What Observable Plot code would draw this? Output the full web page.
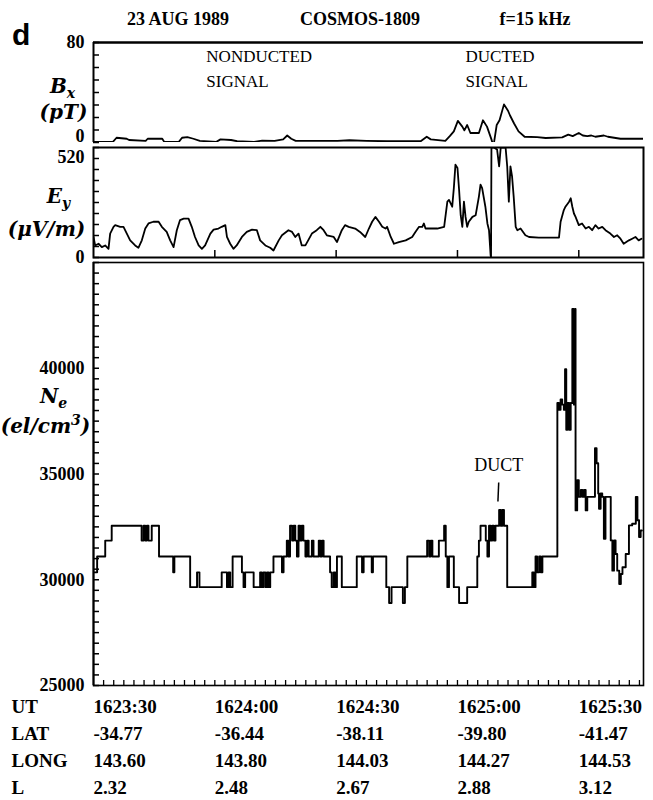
<!DOCTYPE html>
<html><head><meta charset="utf-8">
<script src="https://cdn.jsdelivr.net/npm/d3@7"></script>
<script src="https://cdn.jsdelivr.net/npm/@observablehq/plot@0.6"></script>
<style>
body{margin:0;background:#fff;}
#wrap{position:relative;width:653px;height:800px;overflow:hidden;background:#fff;}
.ttl{position:absolute;top:9px;font:bold 18px "Liberation Serif",serif;white-space:nowrap;transform:translateX(-50%);color:#000;}
#panel{position:absolute;left:12px;top:20px;font:bold 30px "Liberation Sans",Arial,sans-serif;color:#000;line-height:1;}
</style></head>
<body><div id="wrap"><div id="panel">d</div></div>
<script>
// ---------------- data ----------------
const titleTexts = ["23 AUG 1989", "COSMOS-1809", "f=15 kHz"];
const titleCenters = [178, 360, 535];

// time in seconds after 16:23:30 UT
const utTickSeconds = [0, 30, 60, 90, 120];
const rowNames = ["UT", "LAT", "LONG", "L"];
const utLabels = ["1623:30", "1624:00", "1624:30", "1625:00", "1625:30"];
const latLabels = ["-34.77", "-36.44", "-38.11", "-39.80", "-41.47"];
const longLabels = ["143.60", "143.80", "144.03", "144.27", "144.53"];
const lLabels = ["2.32", "2.48", "2.67", "2.88", "3.12"];

// Bx (pT)
const bxTime = [0,1.5,4.8,5.7,8.2,8.8,12.9,13.4,17.0,17.5,21.1,21.9,23.2,24.7,26.3,30.4,31.4,34.0,35.5,39.7,41.7,44.8,46.9,47.9,48.9,50.0,56.1,60.3,63.3,67.5,72.6,80.9,82.4,83.4,87.0,88.1,89.1,90.1,91.2,91.7,92.4,93.2,95.3,96.3,97.3,98.4,98.9,99.7,100.4,101.5,102.5,103.0,104.0,105.1,106.6,109.7,111.8,115.9,117.4,118.5,120.0,121.0,122.1,123.1,124.1,126.2,127.2,130.3,136];
const bxValue = [0.5,0.5,0.5,3.8,3.0,2.0,1.3,3.0,3.0,0.5,0.5,3.8,4.3,3.0,1.3,0.5,2.5,2.0,1.0,0.5,1.5,1.3,2.5,5.6,3.0,1.3,1.3,1.3,1.8,1.3,1.0,1.0,4.6,2.5,1.3,5.1,8.9,17.3,12.7,9.7,14.0,7.6,7.6,17.8,12.7,2.5,-3,14.0,17.8,30.5,25.4,21.6,15.2,8.9,4.6,4.3,3.6,4.1,6.3,5.1,7.6,5.6,5.1,5.6,4.6,5.6,4.6,3.0,3.0];

// Ey (uV/m)
const eyTime = [0,0.41,1.24,2.06,2.89,3.71,4.12,4.95,5.36,6.6,7.42,8.24,9.07,10.3,11.1,11.95,12.8,13.6,14.8,16.1,16.9,18.1,18.96,19.8,20.6,21.4,22.3,23.5,24.3,25.1,26.0,26.8,27.6,28.9,29.7,30.9,31.7,32.6,33.0,33.8,34.6,35.4,36.7,37.9,39.2,40.4,41.2,42.5,43.7,44.5,45.8,46.6,48.2,49.1,49.9,50.7,51.5,52.4,54.0,55.2,56.1,56.9,57.7,59.4,60.2,61.4,62.2,63.1,64.7,65.9,67.2,68.1,68.9,69.7,70.6,71.4,72.2,72.6,73.5,74.3,75.5,77.2,78.8,79.6,80.5,81.3,81.7,82.1,83.8,85.0,86.7,87.5,87.9,88.7,89.1,89.5,90.0,90.4,90.8,91.2,91.6,92.0,92.4,92.8,93.7,94.5,95.3,95.7,96.1,96.9,97.4,97.8,98.2,98.3,98.4,99.0,99.8,100.3,100.7,101.9,102.3,102.7,103.1,103.5,103.9,104.4,104.8,105.6,106.8,107.7,110.1,113.4,115.1,115.5,116.3,116.7,117.6,118.0,118.4,118.8,119.2,120.0,120.8,121.7,122.5,123.3,124.1,124.9,125.8,126.6,127.8,128.7,129.5,130.3,131.1,132.4,133.2,134.0,134.8,135.5];
const eyValue = [97,57,65,49,57,41,113,145,153,145,145,113,81,57,46,81,137,161,169,169,145,121,81,49,129,177,184,184,145,97,57,41,57,113,132,137,145,153,97,65,41,57,97,121,132,129,81,57,46,33,81,105,129,121,97,113,57,57,113,129,145,129,105,97,73,129,153,145,137,121,97,137,169,192,169,145,137,145,97,65,73,81,97,121,145,145,161,137,137,137,145,264,272,240,328,439,423,320,200,145,264,192,145,169,192,200,288,344,328,240,161,129,10,0,520,520,510,431,520,520,431,264,431,383,288,145,129,137,105,97,94,94,94,169,224,240,264,280,240,208,192,153,161,137,145,129,153,137,145,129,113,97,105,89,65,81,89,97,81,89];

// Ne (el/cm^3), step-after samples
const neTime = [0,0.9,2.9,4.5,11.9,12.4,12.8,13.2,13.6,14.4,16.2,19.7,20.0,23.9,25.6,26.2,31.7,33.0,33.4,33.8,34.4,36.7,37.1,37.5,39.6,41.2,41.6,42.0,42.5,42.9,43.3,43.7,44.5,46.6,47.0,47.8,48.2,48.6,49.1,49.5,49.9,50.3,50.7,51.1,51.5,51.9,52.4,52.8,53.2,54.0,54.4,55.7,56.1,56.5,56.9,58.5,58.9,59.4,59.8,60.2,61.4,65.1,66.4,66.8,68.8,69.1,72.4,73.1,73.7,76.5,77.0,77.6,82.5,83.0,83.4,83.8,85.4,86.7,87.1,87.5,87.9,89.1,90.4,92.4,94.9,95.3,95.7,97.0,97.4,97.8,98.2,98.6,99.0,99.4,100.3,100.7,101.1,101.5,102.3,108.5,108.9,109.3,109.7,110.2,110.6,111.0,114.7,115.1,115.5,115.9,116.3,116.6,116.9,117.2,117.6,118.0,118.4,118.8,119.1,119.2,119.6,120.0,120.5,120.9,121.3,121.7,122.1,124.0,124.4,124.8,125.0,125.4,125.8,126.2,126.6,127.9,128.3,128.7,129.1,129.5,130.0,130.4,130.8,131.6,132.4,133.2,134.1,134.5,134.9,135.3,135.6];
const neValue = [30350,31100,31850,32550,31850,32550,31850,32550,31850,32550,31100,30350,31100,29650,30350,29650,30350,29650,30350,29650,31100,30350,29650,30350,29650,30350,29650,30350,29650,30350,29650,30350,31100,30350,31100,31850,31100,32550,31850,32550,31850,31100,32550,31850,32550,31850,31100,31850,31100,31850,31100,31850,31100,31850,31100,30350,29650,30350,29650,31100,29650,31100,30350,31100,30350,31100,29650,28900,29650,28900,29650,31100,31850,31100,31850,31100,31850,32550,31100,29650,31100,29650,28900,29650,31100,31850,32550,31850,31100,32550,31850,32550,31850,32550,33300,32550,33300,32550,29650,30350,29650,31100,30350,31100,30350,31100,38360,38040,38520,38280,38040,39950,37090,38360,37090,38360,42800,38280,42800,33280,34710,33920,34240,33920,34240,33280,33920,36220,35510,34080,33360,34080,33920,31940,33920,31860,30430,31860,31220,30430,29800,30270,30590,31220,32570,32650,33920,32810,32020,32330,32330];

// axis ticks / labels
const bxTicks = d3.range(0, 81, 10);
const eyTicks = d3.range(0, 521, 52);
const eyTimeTicks = [30, 60, 90, 120];
const neTicks = d3.range(25000, 45001, 500), neTickLabels = [25000, 30000, 35000, 40000];
const neTimeTicks = d3.range(2.5, 136, 2.5);

// annotations (data space)
const bxNotes = [{t: 27.9, v: 69, s: "NONDUCTED"}, {t: 27.9, v: 49, s: "SIGNAL"},
                 {t: 92.0, v: 69, s: "DUCTED"}, {t: 92.0, v: 49, s: "SIGNAL"}];
const bxUnits = [{v: 45, s: "B_x", x: 62}, {v: 24, s: "(pT)", x: 63}];
const eyUnits = [{v: 290, s: "E_y", x: 58}, {v: 132, s: "(μV/m)", x: 46}];
const neUnits = [{v: 38650, s: "N_e", x: 53}, {v: 37250, s: "(el/cm^3)", x: 45}];
const ductNote = {t: 100.2, v: 35400, s: "DUCT", lineFrom: 34600, lineTo: 33700};

// ---------------- drawing ----------------
const wrap = document.getElementById("wrap");
titleTexts.forEach((s, i) => {
  const d = document.createElement("div");
  d.className = "ttl"; d.style.left = titleCenters[i] + "px"; d.textContent = s;
  wrap.appendChild(d);
});

const W = 653, ML = 93, MR = 10, PW = W - ML - MR;
const XD = [0, 136];
const FONT = "Liberation Serif";
const txt = {fontFamily: FONT, fontSize: 18, fontWeight: "bold", fill: "black"};
const itx = {fontFamily: "DejaVu Serif", fontSize: 20, fontStyle: "italic", fontWeight: "bold", fill: "black"};

function richText(svg) {
  svg.querySelectorAll("text").forEach(el => {
    const s = el.textContent;
    if (!/[_^]/.test(s)) return;
    const parts = s.split(/([_^].)/);
    el.textContent = "";
    let shift = 0;
    for (const p of parts) {
      if (!p) continue;
      const ts = document.createElementNS("http://www.w3.org/2000/svg", "tspan");
      if (p[0] === "_" || p[0] === "^") {
        const d = p[0] === "_" ? 5 : -8;
        ts.setAttribute("dy", d - shift); shift = d;
        ts.setAttribute("font-size", "14");
        ts.textContent = p.slice(1);
      } else {
        if (shift) { ts.setAttribute("dy", -shift); shift = 0; }
        ts.textContent = p;
      }
      el.appendChild(ts);
    }
  });
}

function addPlot(top, opts) {
  const svg = Plot.plot({
    width: W, marginLeft: ML, marginRight: MR,
    x: {domain: XD, axis: null},
    style: {background: "transparent", overflow: "visible"},
    ...opts
  });
  richText(svg);
  Object.assign(svg.style, {position: "absolute", left: "0px", top: top + "px", background: "transparent", overflow: "visible"});
  wrap.appendChild(svg);
  return svg;
}

function unitText(units) {
  return units.map(u => Plot.text([u], {y: "v", text: "s", frameAnchor: "left", dx: u.x - ML, textAnchor: "middle", ...itx}));
}
const yLabel = (vals, extra = {}) => Plot.text(vals, {y: d => d, text: d => String(d), frameAnchor: "left", dx: -9, textAnchor: "end", ...txt, ...extra});

// Bx panel: plot area y 42..142
const bxIdx = d3.range(bxTime.length);
addPlot(0, {
  height: 146, marginTop: 42, marginBottom: 4,
  y: {domain: [0, 80], axis: null},
  marks: [
    Plot.ruleY([80], {strokeWidth: 2.5}),
    Plot.ruleX([0], {strokeWidth: 2}),
    Plot.tickY(bxTicks, {insetRight: PW - 6, strokeWidth: 1.5}),
    Plot.line(bxIdx, {x: i => bxTime[i], y: i => bxValue[i], strokeWidth: 1.8, clip: true}),
    yLabel([80]),
    yLabel([0], {lineAnchor: "bottom", dy: -1}),
    Plot.text(bxNotes, {x: "t", y: "v", text: "s", textAnchor: "start", ...txt, fontWeight: "normal", fontSize: 17}),
    ...unitText(bxUnits)
  ]
});

// Ey panel: plot area y 147..257
const eyIdx = d3.range(eyTime.length);
addPlot(144, {
  height: 121, marginTop: 3, marginBottom: 8,
  y: {domain: [0, 520], axis: null},
  marks: [
    Plot.frame({strokeWidth: 2}),
    Plot.tickY(eyTicks, {insetRight: PW - 6, strokeWidth: 1.5}),
    Plot.tickX(eyTimeTicks, {insetTop: 110 - 7, strokeWidth: 1.5}),
    Plot.line(eyIdx, {x: i => eyTime[i], y: i => eyValue[i], strokeWidth: 1.8, clip: true}),
    yLabel([520], {lineAnchor: "top", dy: 3}),
    yLabel([0]),
    ...unitText(eyUnits)
  ]
});

// Ne panel: plot area y 262..685
const neIdx = d3.range(neTime.length);
addPlot(250, {
  height: 440, marginTop: 12, marginBottom: 5,
  y: {domain: [25000, 45000], axis: null},
  marks: [
    Plot.frame({strokeWidth: 1.6}),
    Plot.ruleX([0], {strokeWidth: 2}),
    Plot.tickY(neTicks, {insetRight: PW - 6, strokeWidth: 1.5}),
    Plot.tickX(neTimeTicks, {insetTop: 423 - 5, strokeWidth: 1.3}),
    Plot.line(neIdx, {x: i => neTime[i], y: i => neValue[i], curve: "step-after", strokeWidth: 1.9, clip: true}),
    yLabel(neTickLabels),
    ...unitText(neUnits),
    Plot.text([ductNote], {x: "t", y: "v", text: "s", ...txt, fontWeight: "normal"}),
    Plot.link([ductNote], {x1: "t", x2: d => d.t - 0.2, y1: "lineFrom", y2: "lineTo", strokeWidth: 1.5})
  ]
});

// coordinate table
const cells = [];
const rowsData = [utLabels, latLabels, longLabels, lLabels];
rowNames.forEach((r, ri) => rowsData[ri].forEach((s, ci) => cells.push({row: r, t: utTickSeconds[ci], s})));
addPlot(690, {
  height: 110, marginTop: 16, marginBottom: 13,
  y: {type: "point", domain: rowNames, padding: 0, axis: null},
  marks: [
    Plot.text(cells, {x: "t", y: "row", text: "s", textAnchor: "start", ...txt, fontSize: 19}),
    Plot.text(rowNames, {y: d => d, text: d => d, frameAnchor: "left", dx: -82, textAnchor: "start", ...txt, fontSize: 19})
  ]
});
</script>
</body></html>
